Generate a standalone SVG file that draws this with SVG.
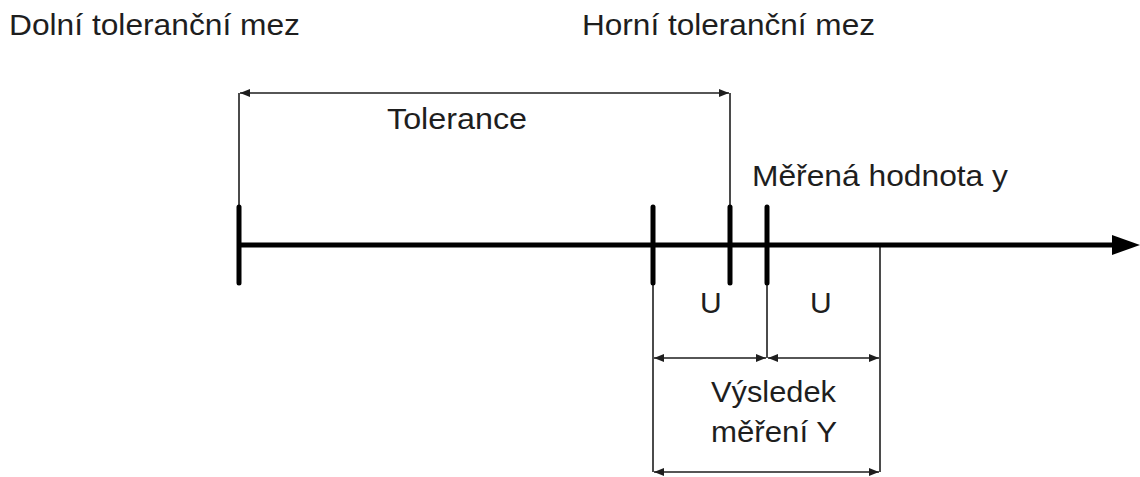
<svg xmlns="http://www.w3.org/2000/svg" width="1140" height="477" viewBox="0 0 1140 477">
<style>
text{font-family:"Liberation Sans",Arial,sans-serif;font-size:30px;fill:#1e1e1e}
.thin{stroke:#1e1e1e;stroke-width:1.6;fill:none}
.tick{stroke:#000;stroke-width:5;stroke-linecap:round}
.axis{stroke:#000;stroke-width:5}
</style>
<defs>
<marker id="ah" viewBox="0 0 10 8" refX="10" refY="4" markerWidth="10" markerHeight="8" markerUnits="userSpaceOnUse" orient="auto-start-reverse">
<path d="M0,0 L10,4 L0,8 Z" fill="#1e1e1e"/>
</marker>
</defs>
<rect width="1140" height="477" fill="#fff"/>
<g id="connectors">
<line class="thin" x1="239" y1="93" x2="239" y2="205"/>
<line class="thin" x1="730" y1="93" x2="730" y2="205"/>
<line class="thin" x1="240" y1="93" x2="729" y2="93" marker-start="url(#ah)" marker-end="url(#ah)"/>
<line class="thin" x1="653" y1="285" x2="653" y2="472"/>
<line class="thin" x1="767" y1="285" x2="767" y2="358"/>
<line class="thin" x1="880" y1="245" x2="880" y2="472"/>
<line class="thin" x1="654" y1="358" x2="766" y2="358" marker-start="url(#ah)" marker-end="url(#ah)"/>
<line class="thin" x1="768" y1="358" x2="879" y2="358" marker-start="url(#ah)" marker-end="url(#ah)"/>
<line class="thin" x1="654" y1="472" x2="879" y2="472" marker-start="url(#ah)" marker-end="url(#ah)"/>
</g>
<g id="axis">
<line class="axis" x1="239" y1="245" x2="1114" y2="245"/>
<path d="M1112,235 L1140,245 L1112,255 Z" fill="#000"/>
</g>
<g id="tick-lower"><line class="tick" x1="239" y1="207" x2="239" y2="283"/></g>
<g id="tick-u-left"><line class="tick" x1="653" y1="207" x2="653" y2="283"/></g>
<g id="tick-upper"><line class="tick" x1="730" y1="207" x2="730" y2="283"/></g>
<g id="tick-measured"><line class="tick" x1="767" y1="207" x2="767" y2="283"/></g>
<g id="label-lower"><text x="9" y="35" textLength="291" lengthAdjust="spacingAndGlyphs">Dolní toleranční mez</text></g>
<g id="label-upper"><text x="582" y="35" textLength="293" lengthAdjust="spacingAndGlyphs">Horní toleranční mez</text></g>
<g id="label-tolerance"><text x="387" y="129" textLength="140" lengthAdjust="spacingAndGlyphs">Tolerance</text></g>
<g id="label-measured"><text x="752" y="186" textLength="256" lengthAdjust="spacingAndGlyphs">Měřená hodnota y</text></g>
<g id="label-u1"><text x="700" y="313">U</text></g>
<g id="label-u2"><text x="810" y="313">U</text></g>
<g id="label-result">
<text x="711" y="402" textLength="125" lengthAdjust="spacingAndGlyphs">Výsledek</text>
<text x="711" y="442" textLength="126" lengthAdjust="spacingAndGlyphs">měření Y</text>
</g>
</svg>
